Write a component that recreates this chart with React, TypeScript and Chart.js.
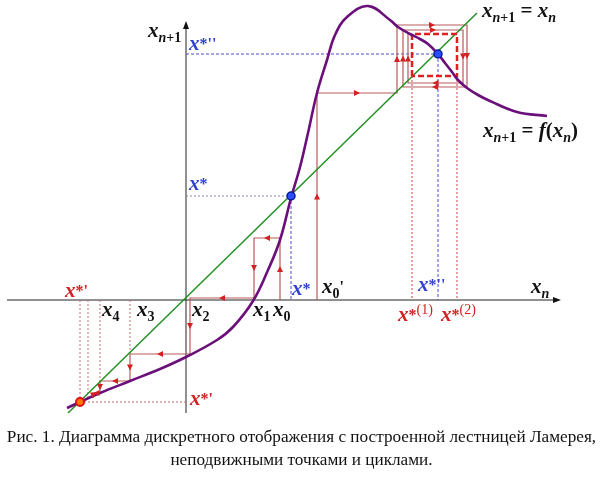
import React, { useEffect, useRef } from 'react';
import { Chart, registerables } from 'chart.js';
Chart.register(...registerables);

// ---- data (units: diagram units, origin at axes crossing) ----
const curveX = [-119, -106, -86, -56, -26, 0, 31, 47, 67, 82, 94, 105, 114, 122, 131, 141, 149, 161, 182, 204, 212, 224, 234, 242, 252, 259, 266, 272, 281, 292, 304, 331, 361];
const curveY = [-108, -102, -93, -81, -69, -57, -40, -27, -1, 30, 60, 102, 133, 167, 207, 240, 265, 283, 294, 280, 273, 266, 261, 256, 246, 237, 228, 220, 212, 205, 199, 188, 184];

const diagX = [-118, 291];
const diagY = [-113, 287];

const axisXX = [-179, 371];
const axisXY = [0, 0];
const axisYX = [0, 0];
const axisYY = [-113, 275];

const lowerWebX = [94, 94, 68, 68, 4, 4, -56, -56, -86, -86, -93, -93];
const lowerWebY = [0, 62, 62, 2, 2, -54, -54, -81, -81, -93, -93, -98];

const upperWebX = [131, 131, 211, 211, 281, 281, 217, 217, 277, 277, 222, 222];
const upperWebY = [0, 207, 207, 275, 275, 213, 213, 270, 270, 217, 217, 266];

const cycleX = [226, 226, 271, 271, 226];
const cycleY = [224, 266, 266, 224, 224];

const fixedBlueX = [105, 252];
const fixedBlueY = [104, 246];
const fixedRedX = [-106];
const fixedRedY = [-102];

// guide lines: [x1, y1, x2, y2]
const blueGuides = [
  [0, 246, 252, 246],
  [105, 104, 105, 0],
  [252, 246, 252, 0],
];
const grayGuides = [[0, 104, 105, 104]];
const redGuides = [
  [226, 224, 226, 0],
  [271, 224, 271, 0],
];
const brownGuides = [
  [-106, 0, -106, -102],
  [-98, 0, -98, -97],
  [-86, 0, -86, -81],
  [-56, 0, -56, -54],
  [-106, -102, 0, -102],
];

const caption1 = 'Рис. 1. Диаграмма дискретного отображения с построенной лестницей Ламерея,';
const caption2 = 'неподвижными точками и циклами.';

// ---- text helpers ----
const serif = '"Liberation Serif","Times New Roman",serif';
type Run = { t: string; f: string; dy?: number };
const X = (t: string): Run => ({ t, f: `italic bold 21px ${serif}` });
const SI = (t: string): Run => ({ t, f: `italic bold 14px ${serif}`, dy: 5 });
const SR = (t: string): Run => ({ t, f: `bold 14px ${serif}`, dy: 5 });
const ST = (t: string): Run => ({ t, f: `bold 16px ${serif}`, dy: -1 });
const SUP = (t: string): Run => ({ t, f: `14px ${serif}`, dy: -7 });
const EQ = (t: string): Run => ({ t, f: `bold 21px ${serif}` });

const BLACK = '#111111';
const BLUE = '#3040d0';
const RED = '#d02020';

const texts: { x: number; y: number; c: string; runs: Run[] }[] = [
  { x: -38, y: 263, c: BLACK, runs: [X('x'), SI('n'), SR('+1')] },
  { x: 3, y: 250, c: BLUE, runs: [X('x'), ST('*'), ST("''")] },
  { x: 3, y: 110, c: BLUE, runs: [X('x'), ST('*')] },
  { x: 106, y: 5, c: BLUE, runs: [X('x'), ST('*')] },
  { x: 136, y: 7, c: BLACK, runs: [X('x'), SR('0'), ST("'")] },
  { x: 232, y: 9, c: BLUE, runs: [X('x'), ST('*'), ST("''")] },
  { x: 345, y: 7, c: BLACK, runs: [X('x'), SI('n')] },
  { x: 212, y: -21, c: RED, runs: [X('x'), ST('*'), SUP('(1)')] },
  { x: 255, y: -21, c: RED, runs: [X('x'), ST('*'), SUP('(2)')] },
  { x: -121, y: 3, c: RED, runs: [X('x'), ST('*'), ST("'")] },
  { x: -84, y: -16, c: BLACK, runs: [X('x'), SR('4')] },
  { x: -49, y: -16, c: BLACK, runs: [X('x'), SR('3')] },
  { x: 6, y: -16, c: BLACK, runs: [X('x'), SR('2')] },
  { x: 67, y: -16, c: BLACK, runs: [X('x'), SR('1')] },
  { x: 87, y: -16, c: BLACK, runs: [X('x'), SR('0')] },
  { x: 4, y: -105, c: RED, runs: [X('x'), ST('*'), ST("'")] },
  { x: 296, y: 283, c: BLACK, runs: [X('x'), SI('n'), SR('+1'), EQ(' = '), X('x'), SI('n')] },
  { x: 297, y: 163, c: BLACK, runs: [X('x'), SI('n'), SR('+1'), EQ(' = '), X('f'), EQ('('), X('x'), SI('n'), EQ(')')] },
];

const pts = (xs: number[], ys: number[]) => xs.map((x, i) => ({ x, y: ys[i] }));
const seg = (g: number[]) => [{ x: g[0], y: g[1] }, { x: g[2], y: g[3] }];

const lineDs = (data: any[], color: string, width: number, dash: number[] = []) => ({
  data,
  showLine: true,
  borderColor: color,
  backgroundColor: color,
  borderWidth: width,
  borderDash: dash,
  pointRadius: 0,
  fill: false,
  tension: 0,
});

const overlay = {
  id: 'overlay',
  afterDatasetsDraw(chart: any) {
    const ctx = chart.ctx;
    const sx = chart.scales.x;
    const sy = chart.scales.y;
    const px = (v: number) => sx.getPixelForValue(v);
    const py = (v: number) => sy.getPixelForValue(v);
    ctx.save();
    const arrow = (x: number, y: number, ang: number, color: string, len = 6, hw = 3) => {
      ctx.save();
      ctx.translate(x, y);
      ctx.rotate(ang);
      ctx.fillStyle = color;
      ctx.beginPath();
      ctx.moveTo(len / 2, 0);
      ctx.lineTo(-len / 2, -hw);
      ctx.lineTo(-len / 2, hw);
      ctx.closePath();
      ctx.fill();
      ctx.restore();
    };
    const webArrows = (xs: number[], ys: number[]) => {
      for (let i = 0; i < xs.length - 1; i++) {
        const x1 = px(xs[i]), y1 = py(ys[i]), x2 = px(xs[i + 1]), y2 = py(ys[i + 1]);
        const L = Math.hypot(x2 - x1, y2 - y1);
        if (L < 4) continue;
        arrow((x1 + x2) / 2, (y1 + y2) / 2, Math.atan2(y2 - y1, x2 - x1), '#d42020');
      }
    };
    webArrows(lowerWebX, lowerWebY);
    webArrows(upperWebX, upperWebY);
    arrow(px(axisXX[1]), py(axisXY[1]), 0, '#111', 8, 3);
    arrow(px(axisYX[1]), py(axisYY[1]), -Math.PI / 2, '#111', 8, 3);
    ctx.textBaseline = 'alphabetic';
    for (const t of texts) {
      let cx = px(t.x);
      const by = py(t.y);
      for (const r of t.runs) {
        ctx.font = r.f;
        ctx.fillStyle = t.c;
        ctx.fillText(r.t, cx, by + (r.dy || 0));
        cx += ctx.measureText(r.t).width;
      }
    }
    ctx.restore();
  },
};

export default function App() {
  const ref = useRef<HTMLCanvasElement>(null);
  useEffect(() => {
    if (!ref.current) return;
    const datasets: any[] = [
      { data: pts(fixedRedX, fixedRedY), pointRadius: 4, pointBackgroundColor: '#ff7a00', pointBorderColor: '#e01010', pointBorderWidth: 2, showLine: false },
      { data: pts(fixedBlueX, fixedBlueY), pointRadius: 4, pointBackgroundColor: '#2a4dff', pointBorderColor: '#0a1a99', pointBorderWidth: 1.5, showLine: false },
      { ...lineDs(pts(curveX, curveY), '#6b0f7a', 2.6), tension: 0.4 },
      lineDs(pts(cycleX, cycleY), '#e02020', 2.5, [6, 3]),
      lineDs(pts(diagX, diagY), '#229022', 1.5),
      lineDs(pts(upperWebX, upperWebY), '#b85a5a', 1.2),
      lineDs(pts(lowerWebX, lowerWebY), '#b85a5a', 1.2),
      ...blueGuides.map((g) => lineDs(seg(g), '#4a4ad0', 1, [3, 2])),
      ...grayGuides.map((g) => lineDs(seg(g), '#8888aa', 1, [2, 2])),
      ...redGuides.map((g) => lineDs(seg(g), '#d04040', 1, [2, 2])),
      ...brownGuides.map((g) => lineDs(seg(g), '#c87070', 1, [2, 2])),
      lineDs(pts(axisXX, axisXY), '#222', 1),
      lineDs(pts(axisYX, axisYY), '#222', 1),
    ];
    const chart = new Chart(ref.current, {
      type: 'scatter',
      data: { datasets },
      options: {
        animation: false,
        responsive: false,
        maintainAspectRatio: false,
        events: [],
        layout: { padding: 0, autoPadding: false },
        plugins: { legend: { display: false }, tooltip: { enabled: false } },
        scales: {
          x: { type: 'linear', min: -186, max: 417, display: false },
          y: { type: 'linear', min: -177, max: 300, display: false },
        },
      },
      plugins: [overlay],
    });
    return () => chart.destroy();
  }, []);
  return (
    <div style={{ position: 'fixed', left: 0, top: 0, width: 603, height: 477, background: '#fff' }}>
      <canvas ref={ref} width={603} height={477} style={{ position: 'absolute', left: 0, top: 0, width: 603, height: 477 }} />
      <div
        style={{
          position: 'absolute',
          left: 0,
          top: 425,
          width: 603,
          textAlign: 'center',
          fontFamily: serif,
          fontSize: 17.2,
          lineHeight: '23px',
          color: '#111',
          whiteSpace: 'nowrap',
        }}
      >
        <div>{caption1}</div>
        <div>{caption2}</div>
      </div>
    </div>
  );
}
